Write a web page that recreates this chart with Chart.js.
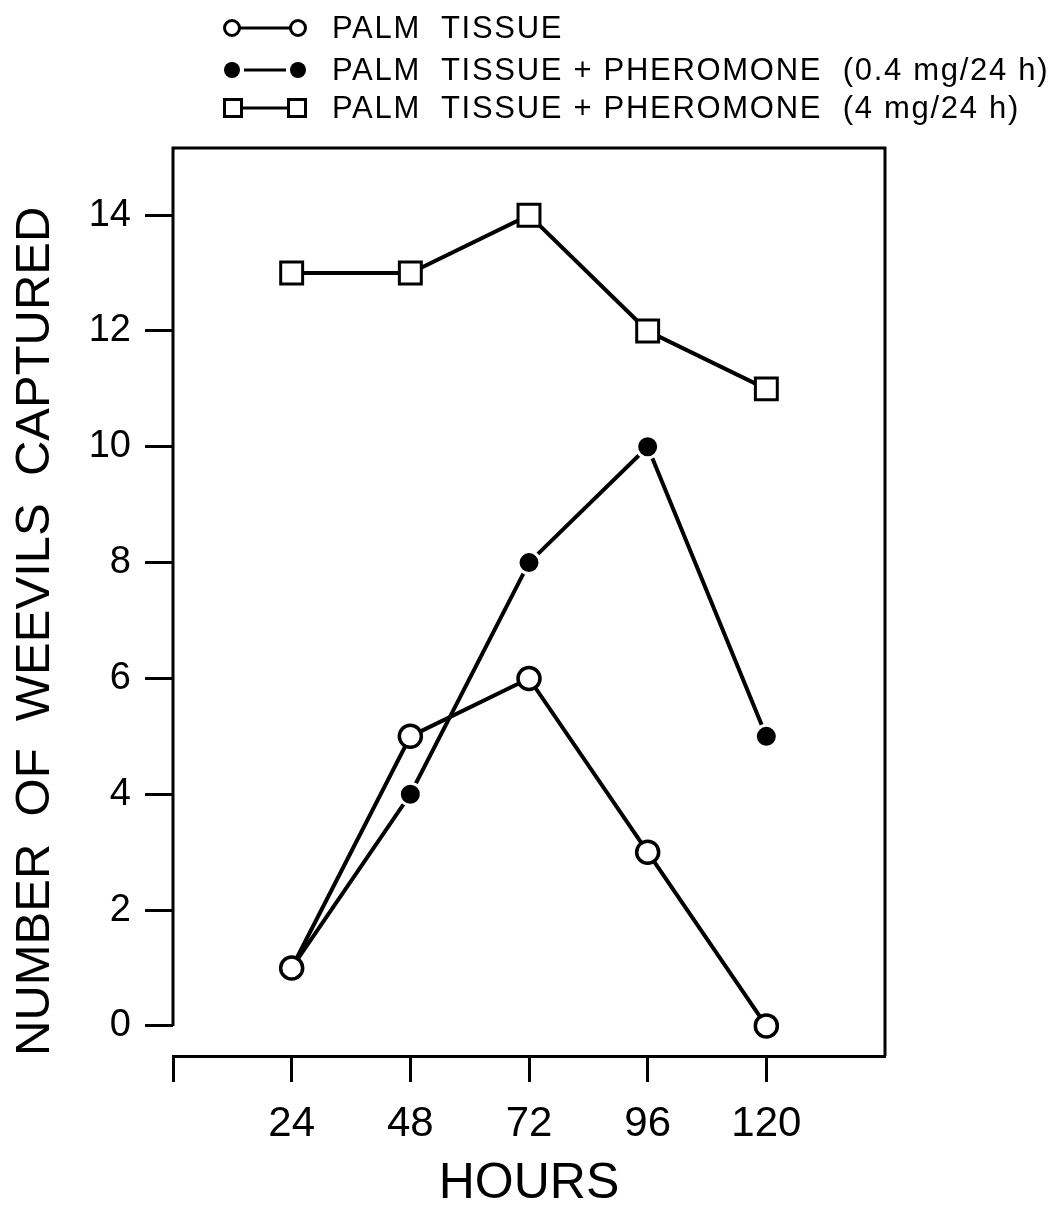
<!DOCTYPE html>
<html>
<head>
<meta charset="utf-8">
<script src="https://cdn.jsdelivr.net/npm/chart.js@4.4.1/dist/chart.umd.min.js"></script>
<style>
  body { margin: 0; background: #fff; }
  #wrap { position: relative; width: 1058px; height: 1209px; }
  #legend { position: absolute; left: 0; top: 0; width: 1058px; height: 140px; font-family: 'Liberation Sans', Arial, sans-serif; }
  .row { position: absolute; left: 223px; height: 30px; }
  .row svg { position: absolute; left: 0; top: 0; }
  .row span { position: absolute; left: 109px; top: -3px; font-size: 31px; letter-spacing: 1.7px; white-space: pre; color: #000; }
</style>
</head>
<body>
<div id="wrap">
  <canvas id="graphCanvas" width="1058" height="1209"></canvas>
  <div id="legend">
    <div class="row" style="top:13px">
      <svg width="90" height="30"><line x1="16" y1="15" x2="68" y2="15" stroke="#000" stroke-width="3"/><circle cx="9" cy="15" r="7.5" fill="#fff" stroke="#000" stroke-width="3"/><circle cx="75" cy="15" r="7.5" fill="#fff" stroke="#000" stroke-width="3"/></svg>
      <span>PALM  TISSUE</span>
    </div>
    <div class="row" style="top:55px">
      <svg width="90" height="30"><line x1="21" y1="15" x2="63" y2="15" stroke="#000" stroke-width="3"/><circle cx="9" cy="15" r="8" fill="#000"/><circle cx="75" cy="15" r="8" fill="#000"/></svg>
      <span>PALM  TISSUE + PHEROMONE  (0.4 mg/24 h)</span>
    </div>
    <div class="row" style="top:93px">
      <svg width="90" height="30"><line x1="19" y1="15" x2="65" y2="15" stroke="#000" stroke-width="3"/><rect x="1.5" y="6.5" width="17" height="17" fill="#fff" stroke="#000" stroke-width="3"/><rect x="65.5" y="6.5" width="17" height="17" fill="#fff" stroke="#000" stroke-width="3"/></svg>
      <span>PALM  TISSUE + PHEROMONE  (4 mg/24 h)</span>
    </div>
  </div>
</div>
<script>
const hours = [24, 48, 72, 96, 120];
const palmTissue = [1, 5, 6, 3, 0];
const pheromoneLow = [1, 4, 8, 10, 5];
const pheromoneHigh = [13, 13, 14, 12, 11];
const xTicks = [0, 24, 48, 72, 96, 120];
const yTicks = [0, 2, 4, 6, 8, 10, 12, 14];

const FONT = "'Liberation Sans', Arial, sans-serif";

function toPoints(values) {
    return hours.map((h, i) => ({ x: h, y: values[i] }));
}

// box lines: top, right, and the left axis that stops at zero
const framePlugin = {
    id: 'frame',
    beforeDatasetsDraw(chart) {
        const { ctx, chartArea: a, scales } = chart;
        const y0 = scales.y.getPixelForValue(0);
        ctx.save();
        ctx.strokeStyle = '#000';
        ctx.lineWidth = 3;
        ctx.beginPath();
        ctx.moveTo(a.left, y0);
        ctx.lineTo(a.left, a.top);
        ctx.lineTo(a.right, a.top);
        ctx.lineTo(a.right, a.bottom);
        ctx.stroke();
        ctx.restore();
    }
};

const ctx = document.getElementById('graphCanvas').getContext('2d');
const chart = new Chart(ctx, {
    type: 'line',
    data: {
        datasets: [
            {
                label: 'PALM TISSUE',
                data: toPoints(palmTissue),
                borderColor: '#000',
                borderWidth: 4,
                pointStyle: 'circle',
                pointRadius: 11,
                pointBorderWidth: 3.5,
                pointBackgroundColor: '#fff',
                pointBorderColor: '#000'
            },
            {
                label: 'PALM TISSUE + PHEROMONE (0.4 mg/24 h)',
                data: toPoints(pheromoneLow),
                borderColor: '#000',
                borderWidth: 4,
                pointStyle: 'circle',
                pointRadius: 11,
                pointBorderWidth: 3,
                pointBackgroundColor: '#000',
                pointBorderColor: '#fff'
            },
            {
                label: 'PALM TISSUE + PHEROMONE (4 mg/24 h)',
                data: toPoints(pheromoneHigh),
                borderColor: '#000',
                borderWidth: 4,
                pointStyle: 'rect',
                pointRadius: 15.5,
                pointBorderWidth: 3,
                pointBackgroundColor: '#fff',
                pointBorderColor: '#000'
            }
        ]
    },
    options: {
        responsive: false,
        animation: false,
        clip: false,
        layout: { padding: { top: 148, right: 173, left: 0, bottom: 0 } },
        plugins: { legend: { display: false }, tooltip: { enabled: false } },
        scales: {
            x: {
                type: 'linear',
                min: 0,
                max: 144,
                afterBuildTicks: (scale) => { scale.ticks = xTicks.map(v => ({ value: v })); },
                afterFit: (scale) => { scale.height = 153; },
                border: { display: true, color: '#000', width: 3 },
                grid: { drawOnChartArea: false, drawTicks: true, tickLength: 26, tickWidth: 3, color: '#000' },
                ticks: {
                    color: '#000',
                    padding: 17,
                    maxRotation: 0,
                    font: { family: FONT, size: 42 },
                    callback: (v) => (v === 0 ? '' : String(v))
                },
                title: {
                    display: true,
                    text: 'HOURS',
                    color: '#000',
                    font: { family: FONT, size: 50, lineHeight: 1 },
                    padding: { top: 0, bottom: 0 }
                }
            },
            y: {
                min: -0.52,
                max: 15.16,
                afterBuildTicks: (scale) => { scale.ticks = yTicks.map(v => ({ value: v })); },
                afterFit: (scale) => { scale.width = 173; },
                border: { display: false },
                grid: { drawOnChartArea: false, drawTicks: true, tickLength: 28, tickWidth: 3, color: '#000' },
                ticks: {
                    color: '#000',
                    padding: 14,
                    font: { family: FONT, size: 38 },
                    callback: (v) => String(v)
                },
                title: {
                    display: true,
                    text: 'NUMBER  OF  WEEVILS  CAPTURED',
                    align: 'start',
                    color: '#000',
                    font: { family: FONT, size: 49, lineHeight: 1 },
                    padding: { top: 11, bottom: 0 }
                }
            }
        }
    },
    plugins: [framePlugin]
});
</script>
</body>
</html>
